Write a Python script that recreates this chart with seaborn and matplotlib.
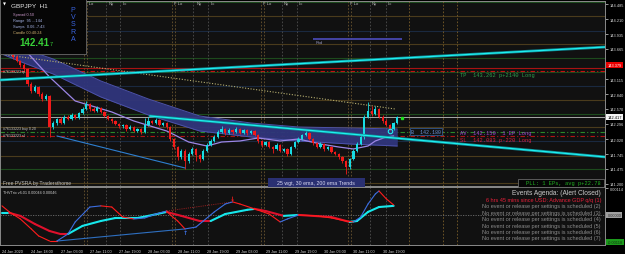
import numpy as np
import pandas as pd
import matplotlib
matplotlib.use("Agg")
import matplotlib.pyplot as plt
import seaborn as sns
from matplotlib.collections import LineCollection
from matplotlib.patches import Rectangle

# ---------------- data ----------------
x_label_bars = [0, 8, 16, 24, 32, 40, 48, 56, 64, 72, 80, 88, 96, 104]
x_labels = ["24 Jan 2020", "24 Jan 18:00", "27 Jan 03:00", "27 Jan 11:00", "27 Jan 19:00",
            "28 Jan 03:00", "28 Jan 11:00", "28 Jan 19:00", "29 Jan 03:00", "29 Jan 11:00",
            "29 Jan 19:00", "30 Jan 03:00", "30 Jan 11:00", "30 Jan 19:00"]

closes = [143.846, 143.755, 143.627, 143.517, 143.444, 143.371, 143.298, 143.025, 142.897, 142.970,
          142.842, 142.751, 142.806, 142.240, 142.313, 142.386, 142.313, 142.422, 142.386, 142.459,
          142.404, 142.495, 142.568, 142.660, 142.568, 142.532, 142.587, 142.514, 142.441, 142.386,
          142.349, 142.295, 142.258, 142.276, 142.203, 142.240, 142.167, 142.203, 142.149, 142.276,
          142.349, 142.313, 142.368, 142.276, 142.313, 142.240, 142.021, 141.875, 141.692, 141.802,
          141.619, 141.747, 141.838, 141.729, 141.656, 141.802, 141.911, 141.984, 142.057, 142.149,
          142.203, 142.130, 142.185, 142.149, 142.203, 142.130, 142.185, 142.130, 142.167, 142.094,
          141.984, 141.911, 141.966, 141.875, 141.838, 141.911, 141.802, 141.838, 141.747, 141.875,
          141.966, 142.021, 142.094, 142.130, 142.021, 141.948, 141.875, 141.930, 141.838, 141.875,
          141.784, 141.747, 141.692, 141.619, 141.510, 141.656, 141.802, 141.930, 142.057, 142.422,
          142.532, 142.477, 142.568, 142.422, 142.349, 142.276, 142.203, 142.313, 142.417]
opens = [143.950, 143.846, 143.755, 143.627, 143.517, 143.444, 143.371, 143.298, 143.025, 142.897,
         142.970, 142.842, 142.751, 142.806, 142.240, 142.313, 142.386, 142.313, 142.422, 142.386,
         142.459, 142.404, 142.495, 142.568, 142.660, 142.568, 142.532, 142.587, 142.514, 142.441,
         142.386, 142.349, 142.295, 142.258, 142.276, 142.203, 142.240, 142.167, 142.203, 142.149,
         142.276, 142.349, 142.313, 142.368, 142.276, 142.313, 142.240, 142.021, 141.875, 141.692,
         141.802, 141.619, 141.747, 141.838, 141.729, 141.656, 141.802, 141.911, 141.984, 142.057,
         142.149, 142.203, 142.130, 142.185, 142.149, 142.203, 142.130, 142.185, 142.130, 142.167,
         142.094, 141.984, 141.911, 141.966, 141.875, 141.838, 141.911, 141.802, 141.838, 141.747,
         141.875, 141.966, 142.021, 142.094, 142.130, 142.021, 141.948, 141.875, 141.930, 141.838,
         141.875, 141.784, 141.747, 141.692, 141.619, 141.510, 141.656, 141.802, 141.930, 142.057,
         142.422, 142.532, 142.477, 142.568, 142.422, 142.349, 142.276, 142.203, 142.313]
highs = [143.99, 143.87, 143.78, 143.66, 143.55, 143.47, 143.40, 143.32, 143.06, 143.00,
         142.99, 142.87, 142.84, 142.83, 142.35, 142.41, 142.42, 142.45, 142.46, 142.49,
         142.48, 142.52, 142.61, 142.72, 142.68, 142.60, 142.62, 142.61, 142.53, 142.46,
         142.41, 142.37, 142.32, 142.30, 142.29, 142.27, 142.26, 142.23, 142.22, 142.40,
         142.42, 142.37, 142.40, 142.39, 142.34, 142.33, 142.26, 142.04, 141.90, 141.84,
         141.83, 141.78, 141.87, 141.86, 141.75, 141.83, 141.94, 142.02, 142.09, 142.19,
         142.26, 142.23, 142.22, 142.21, 142.24, 142.22, 142.21, 142.20, 142.19, 142.19,
         142.11, 142.00, 141.99, 141.98, 141.90, 141.94, 141.93, 141.86, 141.86, 141.90,
         141.99, 142.05, 142.12, 142.16, 142.15, 142.04, 141.97, 141.96, 141.95, 141.90,
         141.89, 141.80, 141.77, 141.71, 141.64, 141.68, 141.83, 141.96, 142.09, 142.46,
         142.70, 142.62, 142.62, 142.59, 142.45, 142.38, 142.30, 142.34, 142.44]
lows = [143.82, 143.73, 143.60, 143.49, 143.42, 143.34, 143.27, 142.99, 142.86, 142.87,
        142.81, 142.72, 142.73, 142.06, 142.20, 142.28, 142.29, 142.30, 142.36, 142.37,
        142.38, 142.39, 142.48, 142.55, 142.54, 142.51, 142.51, 142.49, 142.42, 142.36,
        142.32, 142.27, 142.23, 142.23, 142.17, 142.18, 142.14, 142.15, 142.12, 142.13,
        142.26, 142.29, 142.30, 142.25, 142.26, 142.21, 141.99, 141.84, 141.64, 141.66,
        141.47, 141.58, 141.72, 141.62, 141.60, 141.63, 141.78, 141.89, 141.96, 142.04,
        142.13, 142.10, 142.11, 142.12, 142.13, 142.11, 142.11, 142.10, 142.11, 142.07,
        141.95, 141.88, 141.89, 141.85, 141.77, 141.82, 141.78, 141.78, 141.71, 141.73,
        141.86, 141.95, 142.00, 142.08, 142.00, 141.92, 141.85, 141.86, 141.81, 141.82,
        141.76, 141.72, 141.66, 141.58, 141.39, 141.48, 141.63, 141.78, 141.91, 142.03,
        142.40, 142.44, 142.45, 142.40, 142.32, 142.25, 142.18, 142.19, 142.30]

band_bars = [0, 6, 14, 27, 40, 54, 68, 81, 95, 108]
band_upper = [143.809, 143.664, 143.481, 143.080, 142.751, 142.441, 142.313, 142.240, 142.222, 142.203]
band_lower = [143.572, 143.408, 143.207, 142.788, 142.459, 142.167, 142.058, 141.985, 141.930, 141.893]

wma_bars = [0, 6, 13, 20, 30, 36, 45, 51, 56, 60, 65, 70, 76, 81, 87, 92, 96, 100, 102, 105, 107]
wma_vals = [143.882, 143.664, 143.153, 142.715, 142.514, 142.350, 142.167, 141.966, 141.893, 141.966,
            141.985, 142.039, 141.985, 142.021, 141.930, 141.875, 141.839, 141.893, 141.985, 142.058, 142.076]

trend_up_bars = [-0.5, 164.8]
trend_up_prices = [143.098, 143.700]
trend_dn_bars = [40.4, 164.8]
trend_dn_prices = [142.441, 141.693]
blue_tl_bars = [15, 50]
blue_tl_prices = [142.076, 141.492]
dotted_bars = [-0.5, 107.4]
dotted_prices = [143.572, 142.569]
rnd_bars = [85, 109.3]
rnd_price = 143.846

price_ticks = [144.485, 144.210, 143.935, 143.665, 143.390, 143.115, 142.840, 142.570,
               142.296, 142.020, 141.745, 141.475, 141.200]
last_price = 142.417
alert_price = 143.379
tp_price = 143.262
av_price = 142.150
sl_price = 142.083

level_prices = [144.521, 144.266, 143.992, 143.755, 143.499, 143.317, 143.244, 142.988,
                142.733, 142.477, 142.240, 141.985, 141.711, 141.474, 141.218]
level_colors = ["#1d4a1d", "#4a3b1c", "#1a2940", "#4a3b1c", "#1d4a1d", "#a81212", "#1d4a1d", "#1a2940",
                "#4a3b1c", "#1d4a1d", "#4a3b1c", "#1a2940", "#4a3b1c", "#1d4a1d", "#4a3b1c"]

session_bars = [22.4, 23.2, 28.3, 32.2, 46.4, 47.2, 52.3, 56.2, 70.8, 71.6, 76.5, 80.6, 94.5, 95.3, 100.5, 104.9]
session_text = [(22.4, "F Lo"), (28.6, "Ny"), (32.5, "Lc"), (46.5, "F Lo"), (52.8, "Ny"), (56.7, "Lc"),
                (70.9, "F Lo"), (76.6, "Ny"), (80.7, "Lc"), (94.6, "F Lo"), (100.6, "Ny"), (104.9, "Lc")]
future_bars = [111.2, 120.5, 124.3]

fast_bars = [0, 2, 5, 8, 10, 13, 15, 18, 20, 24, 27, 30, 33, 36, 39, 42, 45, 46, 48, 50,
             53, 55, 58, 61, 63, 65, 69, 73, 76, 78, 81, 86, 90, 94, 96, 98, 100, 102, 103, 105, 107]
fast_vals = [39, 13, -17, -60, -90, -112, -112, -82, -30, 34, 39, 34, -9, -17, -13, 4, 17, 0, -26, -60,
             -52, -26, 13, 47, 56, 47, 26, 4, -30, -17, 0, -4, -13, -26, -30, -9, 47, 90, 103, 69, 43]
slow_bars = [0, 2, 5, 9, 13, 16, 18, 22, 27, 31, 37, 40, 45, 49, 54, 57, 61, 67, 69, 72,
             77, 81, 90, 95, 97, 100, 103, 107]
slow_vals = [9, 9, -4, -39, -69, -82, -82, -47, -26, -13, -13, -4, 13, -4, -26, -26, 4, 22, 26, 17,
             -4, 0, -9, -30, -26, 13, 34, 39]
div_blue_bars = [15, 50]
div_blue_vals = [-112, -60]
div_red_bars = [45, 63]
div_red_vals = [17, 56]

events = ["No event or release per settings is scheduled (%d)" % k for k in range(2, 8)]

# ---------------- figure ----------------
W, H = 625, 255
sns.set_theme(style="dark")
plt.rcParams["font.family"] = ["Liberation Sans", "DejaVu Sans"]
BG = "#111111"

fig = plt.figure(figsize=(6.25, 2.55), dpi=100)
fig.patch.set_facecolor("#000000")


def fx(px):
    return px / W


def fy(py):
    return 1 - py / H


ax = fig.add_axes([fx(0), fy(187), fx(605), (187 - 2) / H])
axs = fig.add_axes([fx(0), fy(246), fx(605), (246 - 188) / H], sharex=ax)
XLIM = (-0.546, 164.75)
for a in (ax, axs):
    a.set_facecolor(BG)
    for s in a.spines.values():
        s.set_color("#8a8a8a")
        s.set_linewidth(0.7)
    a.grid(False)
ax.set_xlim(*XLIM)
ax.set_ylim(141.163, 144.540)
axs.set_ylim(-0.00129, 0.00120)

# horizontal levels
for p, c in zip(level_prices, level_colors):
    ax.axhline(p, color=c, lw=0.8, zorder=1)
ax.axhline(last_price, color="#a8a8a8", lw=0.7, zorder=1)
ax.axhline(tp_price, color="#c81010", lw=0.8, ls=(0, (4, 2, 1, 2)), zorder=1)
ax.axhline(av_price, color="#2a8a2a", lw=0.8, ls=(0, (4, 2, 1, 2)), zorder=1)
ax.axhline(sl_price, color="#b01515", lw=0.8, ls=(0, (4, 2, 1, 2)), zorder=1)

# session verticals
for i, b in enumerate(session_bars):
    col = "#6a5530" if i % 4 < 2 else "#4e4e4e"
    for a in (ax, axs):
        a.axvline(b, color=col, lw=0.6, ls=(0, (2, 2)), zorder=1)
for b in future_bars:
    for a in (ax, axs):
        a.axvline(b, color="#7a5e2a", lw=0.6, ls=(0, (2, 2)), zorder=1)
for b, t in session_text:
    ax.text(b + 0.4, 144.50, t, color="#b8b8b8", fontsize=3.0, va="center", ha="left", zorder=6)

# EMA ribbon
ax.fill_between(band_bars, band_lower, band_upper, color="#30357c", alpha=0.95, lw=0, zorder=2)
sns.lineplot(x=band_bars, y=band_upper, ax=ax, color="#4c52aa", lw=0.7, zorder=2)
sns.lineplot(x=band_bars, y=band_lower, ax=ax, color="#4c52aa", lw=0.7, zorder=2)

# dotted line & purple wma
sns.lineplot(x=dotted_bars, y=dotted_prices, ax=ax, color="#b8b070", lw=0.8, ls=(0, (1, 1.5)), zorder=3)
sns.lineplot(x=wma_bars, y=wma_vals, ax=ax, color="#9c86e6", lw=0.9, zorder=3)

# candles
o = np.array(opens); c = np.array(closes); h = np.array(highs); l = np.array(lows)
xb = np.arange(len(c))
cols = np.where(c >= o, "#19dce4", "#f21a1a")
ax.vlines(xb, l, h, colors=cols, lw=0.6, zorder=4)
body = np.where(np.abs(c - o) < 0.008, 0.008, c - o)
ax.bar(xb, body, bottom=o, width=0.62, color=cols, lw=0, zorder=4)

# trend lines
sns.lineplot(x=trend_up_bars, y=trend_up_prices, ax=ax, color="#0f8c96", lw=2.0, zorder=5)
sns.lineplot(x=trend_up_bars, y=trend_up_prices, ax=ax, color="#1ef0f0", lw=0.9, zorder=5)
sns.lineplot(x=trend_dn_bars, y=trend_dn_prices, ax=ax, color="#0f8c96", lw=2.0, zorder=5)
sns.lineplot(x=trend_dn_bars, y=trend_dn_prices, ax=ax, color="#1ef0f0", lw=0.9, zorder=5)
sns.lineplot(x=blue_tl_bars, y=blue_tl_prices, ax=ax, color="#2e7fd0", lw=0.8, zorder=5)
ax.hlines(rnd_price, rnd_bars[0], rnd_bars[1], color="#4848b0", lw=1.3, zorder=5)
ax.text(rnd_bars[0] + 0.6, rnd_price - 0.06, "Rnd", color="#a0a0c8", fontsize=2.8, va="center", zorder=6)

# markers near last bar
ax.plot([106], [142.167], marker="o", ms=3.2, mfc="none", mec="#1ef0f0", mew=0.8, zorder=6)
ax.plot([109.3], [142.404], marker="s", ms=1.6, color="#20e020", zorder=6)

# chart labels in the main panel
ax.text(125.1, 143.207, "TP  143.262 p+2140 Long", color="#2e9e4e", fontsize=3.9,
        family="Liberation Mono", va="center", ha="left", zorder=6)
ax.text(125.1, 142.140, "AV  142.150  1 EP Long", color="#a442d4", fontsize=3.9,
        family="Liberation Mono", va="center", ha="left", zorder=6)
ax.text(125.1, 142.015, "SL  142.083 p-220 Long", color="#d82040", fontsize=3.9,
        family="Liberation Mono", va="center", ha="left", zorder=6)
ax.text(111.8, 142.150, "B  142.180", color="#6a90d8", fontsize=3.6, family="Liberation Mono",
        va="center", ha="left", zorder=6,
        bbox=dict(boxstyle="square,pad=0.2", fc=BG, ec="#3a66aa", lw=0.5))

# right price axis (the 143.390 label is covered by the alert box in the reference)
ax.yaxis.tick_right()
ax.set_yticks(price_ticks)
ax.set_yticklabels(["" if abs(v - alert_price) < 0.05 else "%.3f" % v for v in price_ticks])
ax.tick_params(axis="y", colors="#d8d8d8", labelsize=2.8, length=2, width=0.5, pad=1.5)
ax.tick_params(axis="x", bottom=False, labelbottom=False)
ybox = ax.get_yaxis_transform()
ax.text(1.004, alert_price, "143.379", transform=ybox, fontsize=2.8, color="white", va="center",
        ha="left", clip_on=False, bbox=dict(boxstyle="square,pad=0.25", fc="#e80000", ec="none"))
ax.text(1.004, last_price, "142.417", transform=ybox, fontsize=2.8, color="black", va="center",
        ha="left", clip_on=False, bbox=dict(boxstyle="square,pad=0.25", fc="#f4f4f4", ec="none"))

# ---------------- oscillator ----------------
axs.axhline(0, color="#707070", lw=0.6, ls=(0, (1.5, 1.5)), zorder=1)


def colored(axh, xs, ys, up, dn, lw, z):
    xs = np.asarray(xs, float); ys = np.asarray(ys, float) * 1e-5
    segs, cl = [], []
    last = up
    for i in range(len(xs) - 1):
        d = ys[i + 1] - ys[i]
        if d > 0:
            last = up
        elif d < 0:
            last = dn
        segs.append([(xs[i], ys[i]), (xs[i + 1], ys[i + 1])])
        cl.append(last)
    axh.add_collection(LineCollection(segs, colors=cl, linewidths=lw, zorder=z, capstyle="round"))


colored(axs, slow_bars, slow_vals, "#16e8ec", "#e0102c", 1.5, 3)
colored(axs, fast_bars, fast_vals, "#3c6ee0", "#ff1c1c", 0.8, 4)
sns.lineplot(x=div_blue_bars, y=np.array(div_blue_vals) * 1e-5, ax=axs, color="#2e6fc0", lw=0.8, zorder=2)
sns.lineplot(x=div_red_bars, y=np.array(div_red_vals) * 1e-5, ax=axs, color="#a02020", lw=0.7,
             ls=(0, (1, 1.2)), zorder=2)
axs.text(50, -0.00075, "\u2191", color="#3c6ee0", fontsize=4.5, ha="center", va="center",
         family="DejaVu Sans", fontweight="bold", zorder=5)
axs.text(63, 0.00072, "\u2193", color="#ff1c1c", fontsize=4.5, ha="center", va="center",
         family="DejaVu Sans", fontweight="bold", zorder=5)

axs.yaxis.tick_right()
axs.set_yticks([0.00114])
axs.set_yticklabels(["0.00114"])
axs.tick_params(axis="y", colors="#d8d8d8", labelsize=2.8, length=2, width=0.5, pad=1.5)
sbox = axs.get_yaxis_transform()
axs.text(1.004, 0.0, "0.00000", transform=sbox, fontsize=2.8, color="#303030", va="center",
         ha="left", clip_on=False, bbox=dict(boxstyle="square,pad=0.25", fc="#a0a0a0", ec="none"))
axs.text(1.004, -0.00118, "-0.00118", transform=sbox, fontsize=2.8, color="#103010", va="center",
         ha="left", clip_on=False, bbox=dict(boxstyle="square,pad=0.25", fc="#1c9a1c", ec="none"))

axs.set_xticks(x_label_bars)
axs.set_xticklabels(x_labels)
axs.tick_params(axis="x", colors="#d8d8d8", labelsize=2.7, length=1.5, width=0.5, pad=1.2)
for t in axs.get_xticklabels():
    t.set_ha("left")
axs.set_xlim(*XLIM)

# ---------------- overlay texts ----------------
fig.patches.append(Rectangle((fx(0), fy(55)), fx(86), 55 / H, transform=fig.transFigure,
                             fc="#060606", ec="#6a6a6a", lw=0.6, zorder=10))
fig.text(fx(3), fy(5), "\u25bc", color="white", fontsize=2.8, va="center", family="DejaVu Sans", zorder=11)
fig.text(fx(11), fy(6), "GBPJPY  H1", color="#e8e8e8", fontsize=4.6, va="center", zorder=11)
fig.text(fx(13), fy(15), "Spread 0.50", color="#c896c8", fontsize=2.8, va="center", zorder=11)
fig.text(fx(13), fy(21), "Range  95 ...144", color="#a6b4e6", fontsize=2.8, va="center", zorder=11)
fig.text(fx(13), fy(27), "Swaps  0.06 -7.43", color="#a6b4e6", fontsize=2.8, va="center", zorder=11)
fig.text(fx(13), fy(33), "Candle 00:40:24", color="#d0b070", fontsize=2.8, va="center", zorder=11)
fig.text(fx(19), fy(43), "142.41", color="#38d038", fontsize=7, fontweight="bold", va="center", zorder=11)
fig.text(fx(50), fy(44), "7", color="#38d038", fontsize=4, va="center", zorder=11)
for k, ch in enumerate("PVSRA"):
    fig.text(fx(73), fy(10 + 7.4 * k), ch, color="#3a64e0", fontsize=5, ha="center", va="center", zorder=11)

fig.text(fx(3), fy(72), "#76133223 tp", color="#c8c8c8", fontsize=2.6, va="center", zorder=11)
fig.text(fx(3), fy(129), "#76133223 buy 0.20", color="#c8c8c8", fontsize=2.6, va="center", zorder=11)
fig.text(fx(3), fy(136), "#76133223 sl", color="#c8c8c8", fontsize=2.6, va="center", zorder=11)
fig.text(fx(3), fy(184), "Free PVSRA by Tradersthome", color="#c0c0c0", fontsize=3.6, va="center", zorder=11)

fig.patches.append(Rectangle((fx(268), fy(188)), fx(97), 9 / H, transform=fig.transFigure,
                             fc="#2a3072", ec="none", zorder=10))
fig.text(fx(316), fy(183.5), "25 wgt, 30 ema, 200 ema Trends", color="#d8d8f0", fontsize=3.8,
         ha="center", va="center", zorder=11)
fig.patches.append(Rectangle((fx(518), fy(187.5)), fx(86), 8 / H, transform=fig.transFigure,
                             fc="#050505", ec="#7a7a7a", lw=0.5, zorder=10))
fig.text(fx(601), fy(183.5), "PLL: 1 EPs, avg p+22.78", color="#22b022", fontsize=3.9,
         family="Liberation Mono", ha="right", va="center", zorder=11)

fig.text(fx(3), fy(193), "THVTrix v6.01 0.00044 0.00046", color="#d0d0d0", fontsize=2.7, va="center", zorder=11)
fig.text(fx(601), fy(194), "Events Agenda: (Alert Closed)", color="#c8c8c8", fontsize=4.8,
         ha="right", va="center", zorder=11)
fig.text(fx(601), fy(200.5), "6 hrs 45 mins since USD: Advance GDP q/q (1)", color="#e8203a",
         fontsize=4.0, ha="right", va="center", zorder=11)
for k, t in enumerate(events):
    fig.text(fx(601), fy(207 + 6.4 * k), t, color="#8c8c8c", fontsize=4.0, ha="right", va="center", zorder=11)

fig.savefig("out.png", dpi=100, facecolor=fig.get_facecolor())
